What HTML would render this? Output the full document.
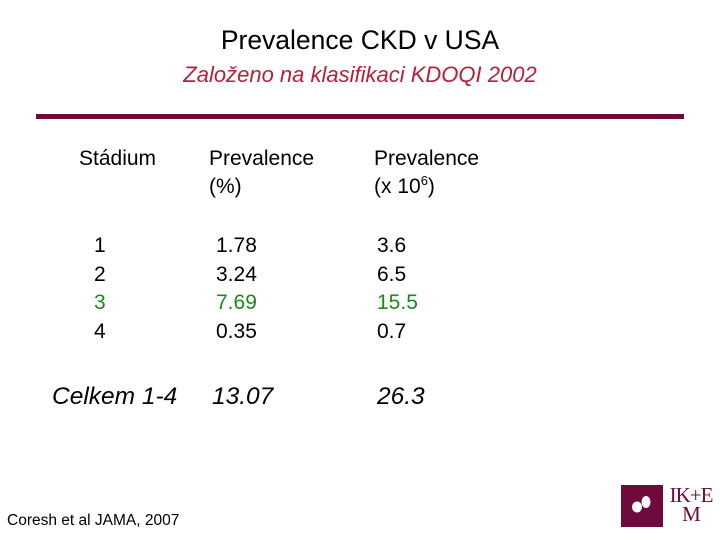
<!DOCTYPE html>
<html><head><meta charset="utf-8"><style>
body{margin:0;width:720px;height:540px;background:#fff;position:relative;overflow:hidden;font-family:"Liberation Sans",sans-serif;color:#000}
div,span{position:absolute;white-space:nowrap}
.h{font-size:21px;line-height:28px}
.n{font-size:21px;line-height:28.5px}
.g{color:#1a8a1a}
.t{font-style:italic;font-size:24.5px}
sup{font-size:13px;line-height:0;vertical-align:8px}
</style></head><body>
<div style="left:0;width:720px;text-align:center;top:25px;font-size:26.5px">Prevalence CKD v USA</div>
<div style="left:0;width:720px;text-align:center;top:62px;font-size:22px;font-style:italic;color:#b8203a">Založeno na klasifikaci KDOQI 2002</div>
<div style="left:36px;top:114px;width:648px;height:5px;background:#6e0a3c"></div>
<div class="h" style="left:79px;top:145px">Stádium</div>
<div class="h" style="left:209px;top:145px">Prevalence<br>(%)</div>
<div class="h" style="left:374px;top:145px">Prevalence<br>(x 10<sup>6</sup>)</div>
<div class="n" style="left:94px;top:232px">1<br>2<br><span class="g" style="position:static">3</span><br>4</div>
<div class="n" style="left:216px;top:232px">1.78<br>3.24<br><span class="g" style="position:static">7.69</span><br>0.35</div>
<div class="n" style="left:377px;top:232px">3.6<br>6.5<br><span class="g" style="position:static">15.5</span><br>0.7</div>
<div class="t" style="left:52px;top:383px">Celkem 1-4</div>
<div class="t" style="left:212px;top:383px">13.07</div>
<div class="t" style="left:377px;top:383px">26.3</div>
<div style="left:7px;top:512px;font-size:15.5px">Coresh et al JAMA, 2007</div>
<div style="left:621px;top:485px;width:42px;height:42px;background:#6e0a3c">
<svg width="42" height="42" style="position:absolute;left:0;top:0"><ellipse cx="16" cy="22" rx="5" ry="5.5" fill="#fff"/><ellipse cx="25" cy="17" rx="4.5" ry="6" fill="#fff"/></svg></div>
<div style="left:668px;top:486px;font-family:'Liberation Serif',serif;font-size:21px;line-height:19px;color:#6e0a3c;text-align:center;width:46px;letter-spacing:-1px">IK+E<br>M</div>
</body></html>
